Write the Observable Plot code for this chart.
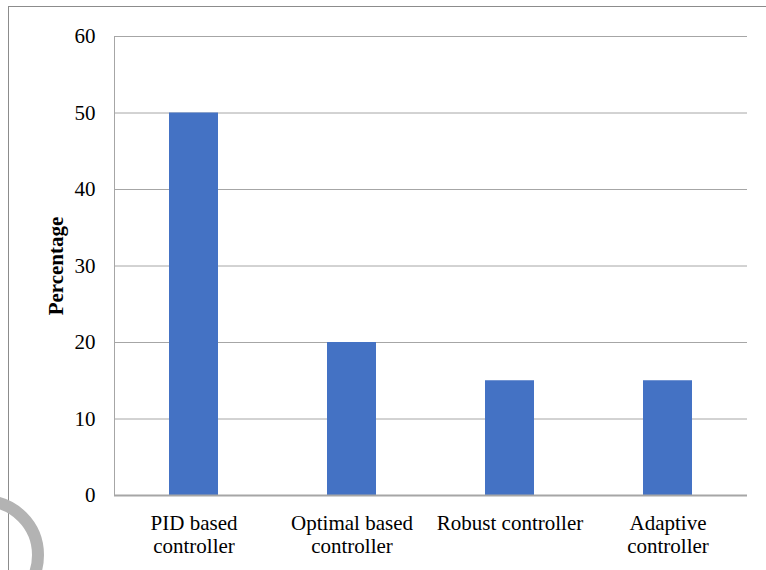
<!DOCTYPE html>
<html>
<head>
<meta charset="utf-8">
<script src="https://cdn.jsdelivr.net/npm/d3@7"></script>
<script src="https://cdn.jsdelivr.net/npm/@observablehq/plot@0.6"></script>
<style>
  html, body { margin: 0; padding: 0; background: #fff; }
  #wrap { position: relative; width: 766px; height: 570px; overflow: hidden; }
  #deco { position: absolute; left: 0; top: 0; pointer-events: none; }
  #chart { position: absolute; left: 0; top: 0; }
  #chart svg, #chart svg text { font-family: "Liberation Serif", "Times New Roman", serif !important; }
</style>
</head>
<body>
<div id="wrap">
  <div id="chart"></div>
  <svg id="deco" width="766" height="570">
    <line x1="8.5" y1="6" x2="8.5" y2="570" stroke="#8c8c8c" stroke-width="1"/>
    <line x1="8" y1="6.5" x2="766" y2="6.5" stroke="#8c8c8c" stroke-width="1"/>
    <circle cx="-16" cy="555" r="54" fill="none" stroke="#b3b3b3" stroke-width="12"/>
  </svg>
</div>
<script>
const categories = ["PID based\ncontroller", "Optimal based\ncontroller", "Robust controller", "Adaptive\ncontroller"];
const values = [50, 20, 15, 15];
const yTicks = [0, 10, 20, 30, 40, 50, 60];

const data = categories.map((c, i) => ({category: c, value: values[i]}));
const serif = "Liberation Serif, Times New Roman, serif";

const chart = Plot.plot({
  width: 766,
  height: 570,
  marginLeft: 114,
  marginRight: 19,
  marginTop: 36,
  marginBottom: 75,
  style: {fontFamily: serif, fontSize: "21px", color: "#000", background: "transparent"},
  x: {domain: categories, paddingInner: 0.69, paddingOuter: 0.345, label: null},
  y: {domain: [0, 60], ticks: yTicks, label: null},
  marks: [
    Plot.gridY(yTicks, {stroke: "#a6a6a6", strokeOpacity: 1, strokeWidth: 1}),
    Plot.frame({anchor: "left", stroke: "#a6a6a6", strokeWidth: 1}),
    Plot.barY(data, {x: "category", y: "value", fill: "#4472c4"}),
    Plot.ruleY([0], {stroke: "#a6a6a6", strokeWidth: 2}),
    Plot.axisY(yTicks, {tickSize: 0, tickPadding: 19, fontSize: 21, fontFamily: serif, label: null}),
    Plot.axisX({tickSize: 0, tickPadding: 17, fontSize: 21, fontFamily: serif, label: null, lineHeight: 1.14}),
    Plot.text(["Percentage"], {frameAnchor: "left", textAnchor: "middle", dx: -58, rotate: -90, fontWeight: "bold", fontSize: 21, fontFamily: serif})
  ]
});
document.getElementById("chart").appendChild(chart);
</script>
</body>
</html>
